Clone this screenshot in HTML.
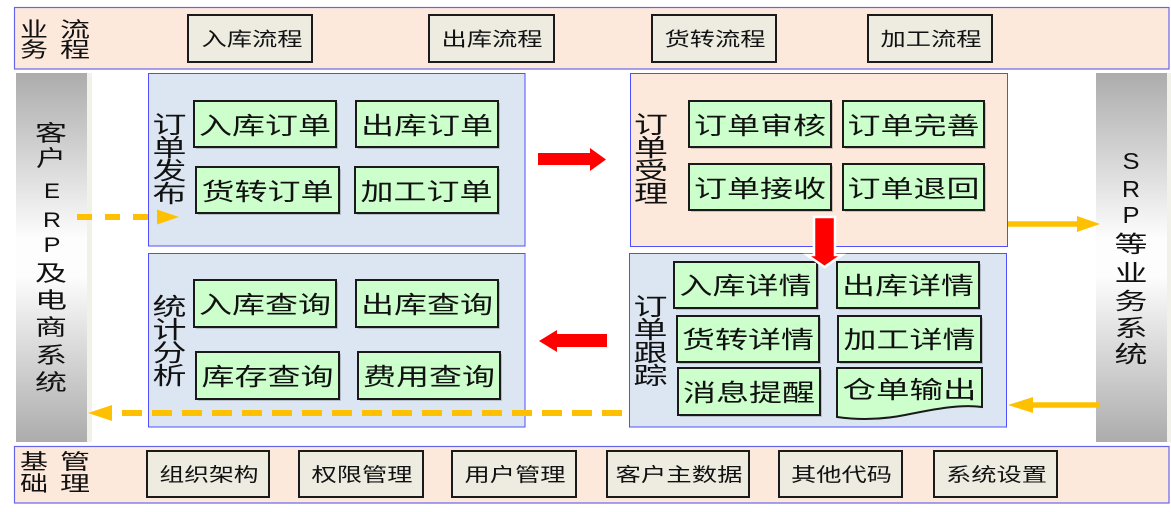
<!DOCTYPE html>
<html>
<head>
<meta charset="utf-8">
<style>
html,body{margin:0;padding:0;background:#fff;}
svg{display:block;}
text{font-family:"Liberation Sans","Noto Sans CJK SC",sans-serif;fill:#111;}
</style>
</head>
<body>
<svg width="1171" height="512" viewBox="0 0 1171 512" xmlns="http://www.w3.org/2000/svg">
<defs>
<linearGradient id="bar" x1="0" y1="0" x2="0" y2="1">
<stop offset="0" stop-color="#acacac"/>
<stop offset="0.45" stop-color="#fdfdfd"/>
<stop offset="0.55" stop-color="#fdfdfd"/>
<stop offset="1" stop-color="#acacac"/>
</linearGradient>
</defs>

<!-- top band -->
<rect x="14.5" y="7.5" width="1154.5" height="61.5" fill="#fde9dc" stroke="#6666e8" stroke-width="1.2"/>
<g font-size="21">
<text x="34" y="37" text-anchor="middle" textLength="28" lengthAdjust="spacingAndGlyphs">业</text>
<text x="75" y="37" text-anchor="middle" textLength="30" lengthAdjust="spacingAndGlyphs">流</text>
<text x="34" y="57" text-anchor="middle" textLength="28" lengthAdjust="spacingAndGlyphs">务</text>
<text x="75" y="57" text-anchor="middle" textLength="30" lengthAdjust="spacingAndGlyphs">程</text>
</g>
<g fill="#eeece1" stroke="#1a1a1a" stroke-width="2">
<rect x="188" y="15" width="124" height="47"/>
<rect x="429" y="15" width="125" height="47"/>
<rect x="652" y="15" width="124" height="47"/>
<rect x="868" y="15" width="124" height="47"/>
</g>
<g font-size="19" text-anchor="middle">
<text x="252" y="45.5" textLength="101" lengthAdjust="spacingAndGlyphs">入库流程</text>
<text x="492" y="45.5" textLength="101" lengthAdjust="spacingAndGlyphs">出库流程</text>
<text x="715" y="45.5" textLength="101" lengthAdjust="spacingAndGlyphs">货转流程</text>
<text x="931" y="45.5" textLength="101" lengthAdjust="spacingAndGlyphs">加工流程</text>
</g>

<!-- side bars -->
<rect x="87" y="73" width="5" height="369" fill="#f1f1ea"/>
<rect x="16" y="73" width="71" height="369" fill="url(#bar)"/>
<rect x="1167" y="73" width="4" height="369" fill="#f1f1ea"/>
<rect x="1096" y="73" width="71" height="369" fill="url(#bar)"/>

<g font-size="22" text-anchor="middle">
<text x="51" y="141" textLength="32" lengthAdjust="spacingAndGlyphs">客</text>
<text x="51" y="166" textLength="30" lengthAdjust="spacingAndGlyphs">户</text>
<text x="52" y="198" font-size="21" textLength="16" lengthAdjust="spacingAndGlyphs">E</text>
<text x="52" y="227" font-size="21" textLength="18" lengthAdjust="spacingAndGlyphs">R</text>
<text x="52" y="252" font-size="21" textLength="17" lengthAdjust="spacingAndGlyphs">P</text>
<text x="51" y="281" textLength="32" lengthAdjust="spacingAndGlyphs">及</text>
<text x="51" y="308" textLength="32" lengthAdjust="spacingAndGlyphs">电</text>
<text x="51" y="335" textLength="32" lengthAdjust="spacingAndGlyphs">商</text>
<text x="51" y="363" textLength="32" lengthAdjust="spacingAndGlyphs">系</text>
<text x="51" y="390" textLength="32" lengthAdjust="spacingAndGlyphs">统</text>
</g>
<g font-size="23" text-anchor="middle">
<text x="1131" y="169" textLength="17" lengthAdjust="spacingAndGlyphs">S</text>
<text x="1131" y="197" textLength="18" lengthAdjust="spacingAndGlyphs">R</text>
<text x="1131" y="223" textLength="17" lengthAdjust="spacingAndGlyphs">P</text>
<text x="1131" y="252" textLength="33" lengthAdjust="spacingAndGlyphs">等</text>
<text x="1131" y="281" textLength="33" lengthAdjust="spacingAndGlyphs">业</text>
<text x="1131" y="309" textLength="33" lengthAdjust="spacingAndGlyphs">务</text>
<text x="1131" y="336" textLength="33" lengthAdjust="spacingAndGlyphs">系</text>
<text x="1131" y="362" textLength="33" lengthAdjust="spacingAndGlyphs">统</text>
</g>

<!-- panels -->
<rect x="148.5" y="73.5" width="376.5" height="172.5" fill="#dce6f2" stroke="#4f4fff" stroke-width="1"/>
<rect x="148.5" y="253.5" width="376.5" height="173.5" fill="#dce6f2" stroke="#4f4fff" stroke-width="1"/>
<rect x="630.5" y="73.5" width="377" height="173" fill="#fde9dc" stroke="#4f4fff" stroke-width="1"/>
<rect x="629.5" y="253.5" width="377" height="173.5" fill="#dce6f2" stroke="#4f4fff" stroke-width="1"/>

<!-- panel labels -->
<g font-size="24" text-anchor="middle">
<text x="169.5" y="133" textLength="34" lengthAdjust="spacingAndGlyphs">订</text>
<text x="169.5" y="156" textLength="34" lengthAdjust="spacingAndGlyphs">单</text>
<text x="169.5" y="179" textLength="34" lengthAdjust="spacingAndGlyphs">发</text>
<text x="169.5" y="202" textLength="34" lengthAdjust="spacingAndGlyphs">布</text>

<text x="651" y="133" textLength="34" lengthAdjust="spacingAndGlyphs">订</text>
<text x="651" y="156" textLength="34" lengthAdjust="spacingAndGlyphs">单</text>
<text x="651" y="179" textLength="34" lengthAdjust="spacingAndGlyphs">受</text>
<text x="651" y="202" textLength="34" lengthAdjust="spacingAndGlyphs">理</text>

<text x="169.5" y="315" textLength="34" lengthAdjust="spacingAndGlyphs">统</text>
<text x="169.5" y="338" textLength="34" lengthAdjust="spacingAndGlyphs">计</text>
<text x="169.5" y="361" textLength="34" lengthAdjust="spacingAndGlyphs">分</text>
<text x="169.5" y="384" textLength="34" lengthAdjust="spacingAndGlyphs">析</text>

<text x="650.5" y="315" textLength="34" lengthAdjust="spacingAndGlyphs">订</text>
<text x="650.5" y="338" textLength="34" lengthAdjust="spacingAndGlyphs">单</text>
<text x="650.5" y="361" textLength="34" lengthAdjust="spacingAndGlyphs">跟</text>
<text x="650.5" y="384" textLength="34" lengthAdjust="spacingAndGlyphs">踪</text>
</g>

<!-- green box shadows -->
<g fill="#000" opacity="0.18">
<rect x="196" y="103" width="142" height="46"/>
<rect x="358" y="103" width="142" height="46"/>
<rect x="198" y="169" width="143" height="46"/>
<rect x="357" y="169" width="143" height="46"/>
<rect x="196" y="282" width="142" height="47"/>
<rect x="358" y="282" width="142" height="47"/>
<rect x="198" y="354" width="143" height="47"/>
<rect x="360" y="354" width="142" height="47"/>
<rect x="691" y="103" width="142" height="46"/>
<rect x="845" y="103" width="141" height="46"/>
<rect x="691" y="166" width="142" height="46"/>
<rect x="845" y="166" width="141" height="46"/>
<rect x="676" y="264" width="143" height="46"/>
<rect x="839" y="264" width="142" height="46"/>
<rect x="679" y="318" width="142" height="46"/>
<rect x="840" y="318" width="143" height="46"/>
<rect x="680" y="370" width="142" height="47"/>
</g>

<!-- green boxes -->
<g fill="#ccffcc" stroke="#1a1a1a" stroke-width="2">
<rect x="194" y="101" width="142" height="46"/>
<rect x="356" y="101" width="142" height="46"/>
<rect x="196" y="167" width="143" height="46"/>
<rect x="355" y="167" width="143" height="46"/>
<rect x="194" y="280" width="142" height="47"/>
<rect x="356" y="280" width="142" height="47"/>
<rect x="196" y="352" width="143" height="47"/>
<rect x="358" y="352" width="142" height="47"/>
<rect x="689" y="101" width="142" height="46"/>
<rect x="843" y="101" width="141" height="46"/>
<rect x="689" y="164" width="142" height="46"/>
<rect x="843" y="164" width="141" height="46"/>
<rect x="674" y="262" width="143" height="46"/>
<rect x="837" y="262" width="142" height="46"/>
<rect x="677" y="316" width="142" height="46"/>
<rect x="838" y="316" width="143" height="46"/>
<rect x="678" y="368" width="142" height="47"/>
<path d="M837,368 H982 V407 C960,404 935,409 905,415 C880,420 858,420 837,417 Z"/>
</g>

<g font-size="24" text-anchor="middle">
<text x="265" y="134" textLength="132" lengthAdjust="spacingAndGlyphs">入库订单</text>
<text x="427" y="134" textLength="132" lengthAdjust="spacingAndGlyphs">出库订单</text>
<text x="267.5" y="200" textLength="132" lengthAdjust="spacingAndGlyphs">货转订单</text>
<text x="426.5" y="200" textLength="132" lengthAdjust="spacingAndGlyphs">加工订单</text>

<text x="265" y="313" textLength="132" lengthAdjust="spacingAndGlyphs">入库查询</text>
<text x="427" y="313" textLength="132" lengthAdjust="spacingAndGlyphs">出库查询</text>
<text x="267.5" y="385" textLength="132" lengthAdjust="spacingAndGlyphs">库存查询</text>
<text x="429" y="385" textLength="132" lengthAdjust="spacingAndGlyphs">费用查询</text>

<text x="760" y="134" textLength="132" lengthAdjust="spacingAndGlyphs">订单审核</text>
<text x="913.5" y="134" textLength="132" lengthAdjust="spacingAndGlyphs">订单完善</text>
<text x="760" y="197" textLength="132" lengthAdjust="spacingAndGlyphs">订单接收</text>
<text x="913.5" y="197" textLength="132" lengthAdjust="spacingAndGlyphs">订单退回</text>

<text x="745.5" y="294" textLength="132" lengthAdjust="spacingAndGlyphs">入库详情</text>
<text x="908" y="294" textLength="132" lengthAdjust="spacingAndGlyphs">出库详情</text>
<text x="748" y="348" textLength="132" lengthAdjust="spacingAndGlyphs">货转详情</text>
<text x="909.5" y="348" textLength="132" lengthAdjust="spacingAndGlyphs">加工详情</text>
<text x="749" y="401" textLength="132" lengthAdjust="spacingAndGlyphs">消息提醒</text>
<text x="909.5" y="398" textLength="134" lengthAdjust="spacingAndGlyphs">仓单输出</text>
</g>

<!-- bottom band -->
<rect x="14.5" y="446.5" width="1154.5" height="56.5" fill="#fde9dc" stroke="#6666e8" stroke-width="1.2"/>
<g font-size="21">
<text x="34" y="469" text-anchor="middle" textLength="28" lengthAdjust="spacingAndGlyphs">基</text>
<text x="75" y="469" text-anchor="middle" textLength="30" lengthAdjust="spacingAndGlyphs">管</text>
<text x="34" y="491" text-anchor="middle" textLength="28" lengthAdjust="spacingAndGlyphs">础</text>
<text x="75" y="491" text-anchor="middle" textLength="30" lengthAdjust="spacingAndGlyphs">理</text>
</g>
<g fill="#eeece1" stroke="#1a1a1a" stroke-width="2">
<rect x="147" y="451" width="122" height="46"/>
<rect x="299" y="451" width="124" height="46"/>
<rect x="452" y="451" width="124" height="46"/>
<rect x="607" y="451" width="142" height="46"/>
<rect x="779" y="451" width="123" height="46"/>
<rect x="934" y="451" width="123" height="46"/>
</g>
<g font-size="19" text-anchor="middle">
<text x="209" y="481" textLength="99" lengthAdjust="spacingAndGlyphs">组织架构</text>
<text x="362" y="481" textLength="101" lengthAdjust="spacingAndGlyphs">权限管理</text>
<text x="515" y="481" textLength="101" lengthAdjust="spacingAndGlyphs">用户管理</text>
<text x="679" y="481" textLength="127" lengthAdjust="spacingAndGlyphs">客户主数据</text>
<text x="841.5" y="481" textLength="101" lengthAdjust="spacingAndGlyphs">其他代码</text>
<text x="996.5" y="481" textLength="101" lengthAdjust="spacingAndGlyphs">系统设置</text>
</g>

<!-- orange arrows -->
<line x1="77" y1="217" x2="157" y2="217" stroke="#ffc000" stroke-width="6" stroke-dasharray="15 13"/>
<polygon points="157,209.5 179,217 157,224.5" fill="#ffc000"/>

<line x1="622" y1="413" x2="110" y2="413" stroke="#ffc000" stroke-width="6" stroke-dasharray="20 10"/>
<polygon points="112,405 88,413 112,421" fill="#ffc000"/>

<line x1="1008" y1="224" x2="1079" y2="224" stroke="#ffc000" stroke-width="5.5"/>
<polygon points="1077,216 1100,224 1077,232" fill="#ffc000"/>

<line x1="1100" y1="405" x2="1031" y2="405" stroke="#ffc000" stroke-width="5.5"/>
<polygon points="1033,397 1008,405 1033,413" fill="#ffc000"/>

<!-- red arrows -->
<polygon points="538,153 590,153 590,148 606,159.5 590,171 590,165 538,165" fill="#ff0000"/>
<polygon points="607,334 557,334 557,330 539,341 557,352 557,347 607,347" fill="#ff0000"/>
<polygon points="814,217 835,217 835,255 842,255 824.5,267 807,255 814,255" fill="#ff0000" stroke="#ffffff" stroke-width="2.5" stroke-linejoin="miter"/>
</svg>
</body>
</html>
